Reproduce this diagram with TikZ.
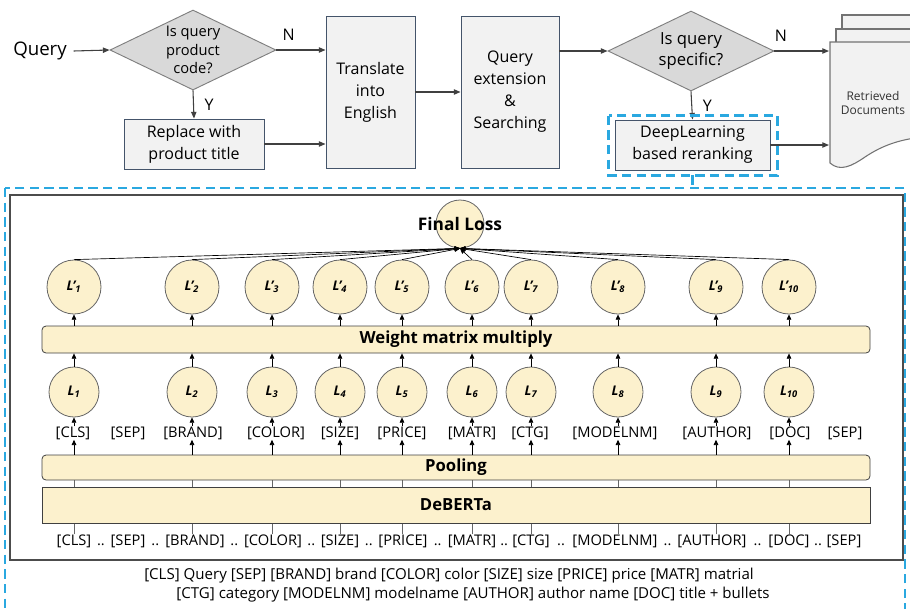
\documentclass[tikz,border=0pt]{standalone}
\usepackage{fontspec}
\setmainfont{Open Sans}
\usetikzlibrary{shapes.geometric,arrows.meta,positioning,calc,backgrounds}
\definecolor{cream}{HTML}{FCF1CD}
\definecolor{skyblue}{HTML}{2AA8E0}
\definecolor{slate}{HTML}{44546A}
\definecolor{boxgray}{HTML}{F2F2F2}
\definecolor{diagray}{HTML}{D9D9D9}
\definecolor{edgegray}{HTML}{7F7F7F}
\definecolor{arrowgray}{HTML}{404040}

\begin{document}
\begin{tikzpicture}[x=0.75pt,y=-0.75pt,
  every node/.style={inner sep=0pt},
  proc/.style={draw=slate,fill=boxgray,line width=0.7pt,align=center,font=\fontsize{12}{16.5}\selectfont},
  decide/.style={diamond,draw=edgegray,fill=diagray,line width=0.7pt,aspect=2,align=center,minimum width=124.5pt,minimum height=60pt},
  flow/.style={draw=arrowgray,line width=0.8pt,-{Triangle[length=5pt,width=4pt]}},
  yn/.style={font=\fontsize{12}{14}\selectfont},
  page/.style={draw=black!55,fill=boxgray,line width=0.8pt},
  bluedash/.style={draw=skyblue,line width=1.9pt,dash pattern=on 7pt off 4pt},
  layer/.style={draw=black!75,fill=cream,line width=0.6pt,minimum width=621pt,font=\bfseries\fontsize{12.5}{14}\selectfont},
  loss/.style={circle,draw=black!60,fill=cream,line width=0.6pt,minimum size=40.5pt,font=\bfseries\itshape\fontsize{10}{11}\selectfont},
  tok/.style={font=\fontsize{11}{12}\selectfont},
  up/.style={draw=black,line width=0.5pt,-{Triangle[length=4pt,width=3.5pt]}}]
\clip (0,0) rectangle (910,608);

\node[font=\fontsize{14}{16}\selectfont] (query) at (40,51) {Query};
\node[decide,font=\fontsize{11}{14}\selectfont] (qcode) at (193,50) {Is query\\product\\code?};
\node[proc,minimum width=105pt,minimum height=37.5pt] (repl) at (194,144) {Replace with\\product title};
\node[proc,minimum width=66.75pt,minimum height=114pt] (trans) at (370.5,92) {Translate\\into\\English};
\node[proc,minimum width=73.5pt,minimum height=114pt] (ext) at (510,92) {Query\\extension\\\&\\Searching};
\node[decide,font=\fontsize{12.5}{16}\selectfont] (qspec) at (691,51) {Is query\\specific?};
\node[proc,minimum width=116.25pt,minimum height=37.5pt] (rerank) at (692.5,145) {DeepLearning\\based reranking};

\filldraw[page] (842,15) rectangle (915,60);
\filldraw[page] (836,29) rectangle (915,70);
\filldraw[page] (830,42) -- (915,42) -- (915,138)
  .. controls (895,141) and (880,147) .. (865,157)
  .. controls (852,166) and (840,172) .. (830,163) -- cycle;
\node[align=center,text=black!80,font=\fontsize{9}{11}\selectfont] (docs) at (873,103) {Retrieved\\Documents};
\coordinate (docin1) at (829,51);
\coordinate (docin2) at (829,145);

\draw[flow] ([xshift=5pt]query.east) -- (qcode.west);
\draw[flow] (qcode.east) -- (trans.west |- qcode.east) node[yn,pos=0.25,above=7pt] (n1) {N};
\draw[flow] (qcode.south) -- (repl.north) node[yn,midway,right=8pt] (y1) {Y};
\draw[flow] (repl.east) -- (trans.west |- repl.east);
\draw[flow] (trans.east) -- (ext.west);
\draw[flow] (ext.east |- qspec.west) -- (qspec.west);
\draw[flow] (qspec.east) -- (docin1) node[yn,pos=0.12,above=7pt] (n2) {N};
\draw[flow] (qspec.south) -- (rerank.north) node[yn,midway,right=8pt] (y2) {Y};
\draw[flow] (rerank.east) -- (docin2);

\draw[bluedash] ($(rerank.north west)+(-6,-4)$) coordinate (rdnw) rectangle ($(rerank.south east)+(7,5)$) coordinate (rdse);
\draw[bluedash] (5,188) coordinate (bignw) rectangle (905,625);
\draw[bluedash] (rerank.south |- rdse) -- (rerank.south |- bignw);
\draw[black!70,line width=0.8pt] (10,195) rectangle (903,560);

\node[loss,minimum size=36pt] (floss) at (460,224) {};
\node[font=\bfseries\fontsize{13}{15}\selectfont] (flosstext) at (floss) {Final Loss};

\node[layer,rounded corners=3pt,minimum height=20.25pt] (wm) at (456,339.5) {Weight matrix multiply};
\node[layer,rounded corners=3pt,minimum height=18.75pt] (pool) at (456,467.5) {Pooling};
\node[layer,minimum height=27pt] (deberta) at (456,505) {DeBERTa};

\foreach \x [count=\i] in {74,192,272,340,402,472,531,618,716,789}{
  \node[loss] (lp\i) at (\x,287) {L'\textsubscript{\i}};
  \node[loss,minimum size=37.5pt] (l\i) at (\x,392) {L\textsubscript{\i}};
}

\foreach \t/\x [count=\i] in {{[CLS]}/73,{[SEP]}/128,{[BRAND]}/193,{[COLOR]}/276,{[SIZE]}/340,{[PRICE]}/402,{[MATR]}/472,{[CTG]}/530,{[MODELNM]}/615,{[AUTHOR]}/717,{[DOC]}/790,{[SEP]}/845}
  \node[tok] (tt\i) at (\x,433) {\t};

\foreach \t/\x [count=\i] in {{[CLS]}/74,{[SEP]}/128,{[BRAND]}/195,{[COLOR]}/273,{[SIZE]}/340,{[PRICE]}/403,{[MATR]}/472,{[CTG]}/531,{[MODELNM]}/615,{[AUTHOR]}/712,{[DOC]}/789,{[SEP]}/844}
  \node[tok] (bt\i) at (\x,541) {\t};
\foreach \i [evaluate=\i as \j using int(\i+1)] in {1,...,11}
  \node[tok,anchor=base] (dd\i) at ($(bt\i.base east)!.5!(bt\j.base west)$) {..};

\foreach \i in {1,...,10}{
  \draw[up] (l\i.south |- pool.north) -- (l\i.south |- tt1.south);
  \draw[up] (l\i.south |- tt1.north) -- (l\i.south);
  \draw[up] (l\i.north) -- (l\i.north |- wm.south);
  \draw[up] (lp\i.south |- wm.north) -- (lp\i.south);
  \draw[up] (lp\i.north) -- (floss.south);
  \begin{scope}[on background layer]
    \draw[black!60,line width=0.6pt] (l\i.south |- bt1.north) -- (l\i.south |- pool.north);
  \end{scope}
}

\node[tok,font=\fontsize{11.3}{12}\selectfont] (cap1) at (449,576) {[CLS] Query [SEP] [BRAND] brand [COLOR] color [SIZE] size [PRICE] price [MATR] matrial};
\node[tok,font=\fontsize{11.3}{12}\selectfont] (cap2) at (473,595) {[CTG] category [MODELNM] modelname [AUTHOR] author name [DOC] title + bullets};
\end{tikzpicture}
\end{document}
